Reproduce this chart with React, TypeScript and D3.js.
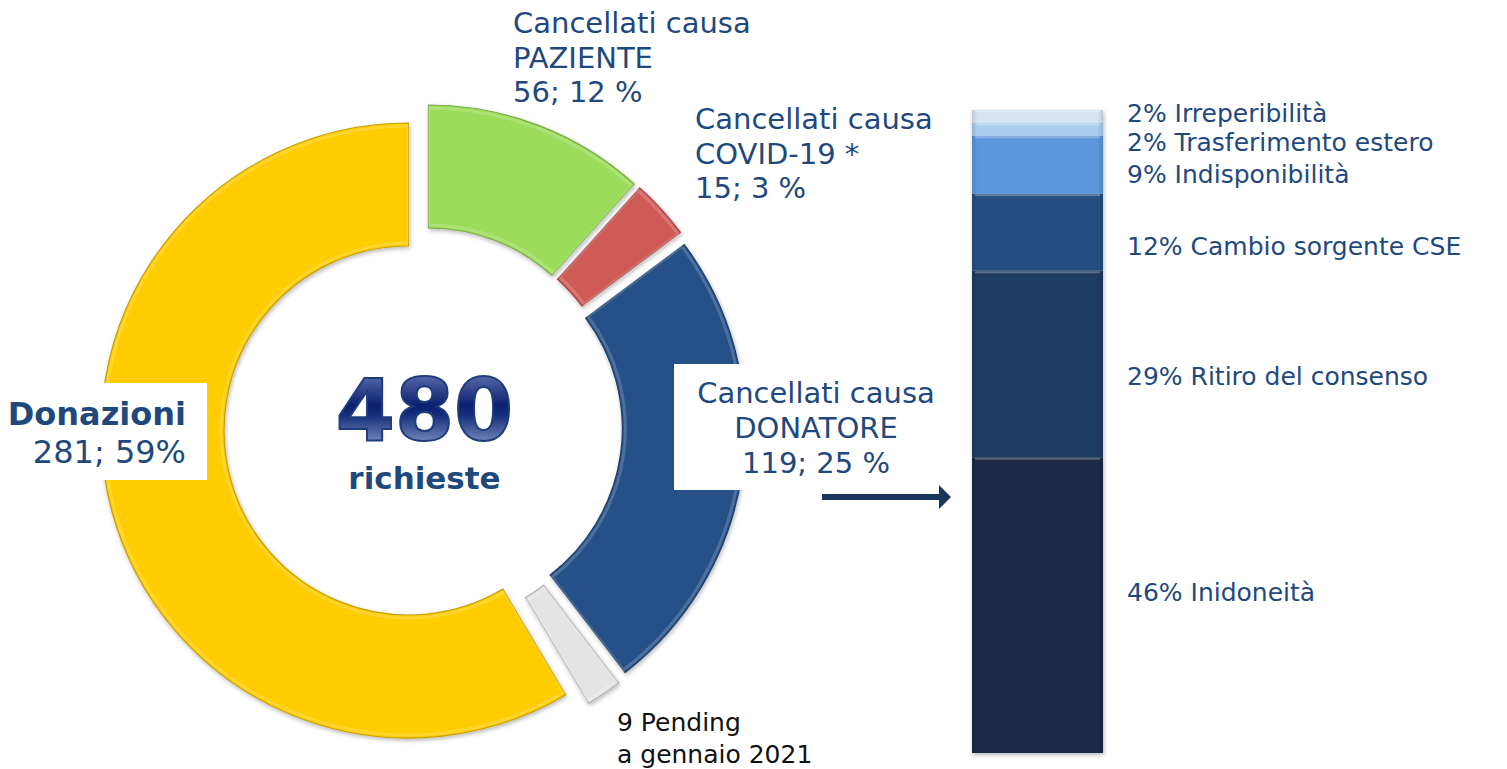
import React from "react";
import * as d3 from "d3";

// ---- Data ----
const pieCategories = ["PAZIENTE", "COVID-19 *", "DONATORE", "Pending", "Donazioni"];
const pieValues = [56, 15, 119, 9, 281];
const piePercents = [12, 3, 25, 2, 59];

const barCategories = [
  "Inidoneità",
  "Ritiro del consenso",
  "Cambio sorgente CSE",
  "Indisponibilità",
  "Trasferimento estero",
  "Irreperibilità",
];
const barValues = [46, 29, 12, 9, 2, 2];

const totalLabel = "richieste";
const pendingLines = ["9 Pending", "a gennaio 2021"];

export default function App() {
  const W = 1507;
  const H = 769;
  const FONT = "'DejaVu Sans', Verdana, sans-serif";
  const TEXT = "#1f497d";

  const pieColors = ["#9bdc5a", "#d05a55", "#265188", "#e4e4e4", "#ffcc00"];
  const barColors = ["#1a2b47", "#1e3a61", "#264e82", "#5b96dc", "#a9cdee", "#d6e3f0"];

  const cx = 423;
  const cy = 426.5;
  const rOuter = 307.5;
  const rInner = 184.5;
  const explode = 15;

  const total = d3.sum(pieValues);
  const pieGen = d3
    .pie<number>()
    .sort(null)
    .value((d) => d)
    .startAngle(0)
    .endAngle(2 * Math.PI);
  const arcs = pieGen(pieValues);
  const arcGen = d3
    .arc<d3.PieArcDatum<number>>()
    .innerRadius(rInner)
    .outerRadius(rOuter);
  const arcInset = d3
    .arc<d3.PieArcDatum<number>>()
    .innerRadius(rInner + 3)
    .outerRadius(rOuter - 3);

  // stacked bar
  const barX = 972;
  const barW = 131;
  const y = d3.scaleLinear().domain([0, 100]).range([753, 110]);
  let acc = 0;
  const segs = barValues.map((v, i) => {
    const s = { i, v, y0: acc, y1: acc + v };
    acc += v;
    return s;
  });
  const labelNudge = [-13, 12, 14, 9, 13, -3];

  const lh = 34.5;

  return (
    <div style={{ position: "absolute", left: 0, top: 0, width: W, height: H, background: "#fff" }}>
      <svg width={W} height={H} style={{ display: "block" }}>
        <defs>
          <filter id="shadow" x="-20%" y="-20%" width="140%" height="140%">
            <feDropShadow dx="1" dy="2" stdDeviation="2" floodColor="#000" floodOpacity="0.28" />
          </filter>
          <linearGradient id="g480" x1="0" y1="0" x2="0" y2="1">
            <stop offset="0" stopColor="#7b8cc6" />
            <stop offset="0.45" stopColor="#0b1f6f" />
            <stop offset="0.55" stopColor="#16307c" />
            <stop offset="1" stopColor="#b3bfe2" />
          </linearGradient>
          {barColors.map((c, i) => (
            <linearGradient key={i} id={`bg${i}`} x1="0" y1="0" x2="1" y2="0">
              <stop offset="0" stopColor={d3.color(c)!.darker(0.35).formatHex()} />
              <stop offset="0.04" stopColor={c} />
              <stop offset="0.96" stopColor={c} />
              <stop offset="1" stopColor={d3.color(c)!.darker(0.35).formatHex()} />
            </linearGradient>
          ))}
        </defs>

        {/* Donut */}
        <g>
          {arcs.map((a, i) => {
            const mid = (a.startAngle + a.endAngle) / 2;
            const tx = cx + Math.sin(mid) * explode;
            const ty = cy - Math.cos(mid) * explode;
            const c = pieColors[i];
            return (
              <g key={i} transform={`translate(${tx},${ty})`}>
                <path
                  d={arcGen(a) || ""}
                  fill={c}
                  stroke={d3.color(c)!.darker(0.7).formatHex()}
                  strokeWidth={1.2}
                  filter="url(#shadow)"
                />
                <path
                  d={arcInset(a) || ""}
                  fill="none"
                  stroke="#fff"
                  strokeOpacity={0.18}
                  strokeWidth={3}
                />
              </g>
            );
          })}
        </g>

        {/* Center total */}
        <text
          x={424.5}
          y={440}
          textAnchor="middle"
          fontFamily={FONT}
          fontWeight="bold"
          fontSize={85}
          fill="url(#g480)"
          stroke="#1f3c7c"
          strokeWidth={2}
        >
          {total}
        </text>
        <text x={424.5} y={489} textAnchor="middle" fontFamily={FONT} fontWeight="bold" fontSize={31} fill={TEXT}>
          {totalLabel}
        </text>

        {/* Donazioni label box */}
        <rect x={0} y={383} width={207} height={97} fill="#fff" />
        <text fontFamily={FONT} fontSize={32} fill={TEXT} textAnchor="end">
          <tspan x={186} y={425} fontWeight="bold">
            {pieCategories[4]}
          </tspan>
          <tspan x={186} y={463}>
            {`${pieValues[4]}; ${piePercents[4]}%`}
          </tspan>
        </text>

        {/* PAZIENTE label */}
        <text fontFamily={FONT} fontSize={29} fill={TEXT}>
          <tspan x={513} y={33}>Cancellati causa</tspan>
          <tspan x={513} y={33 + lh}>{pieCategories[0]}</tspan>
          <tspan x={513} y={33 + 2 * lh}>{`${pieValues[0]}; ${piePercents[0]} %`}</tspan>
        </text>

        {/* COVID label */}
        <text fontFamily={FONT} fontSize={29} fill={TEXT}>
          <tspan x={695} y={129}>Cancellati causa</tspan>
          <tspan x={695} y={129 + lh}>{pieCategories[1]}</tspan>
          <tspan x={695} y={129 + 2 * lh}>{`${pieValues[1]}; ${piePercents[1]} %`}</tspan>
        </text>

        {/* DONATORE label box */}
        <rect x={674} y={364} width={285} height={126} fill="#fff" />
        <text fontFamily={FONT} fontSize={29} fill={TEXT} textAnchor="middle">
          <tspan x={816} y={403}>Cancellati causa</tspan>
          <tspan x={816} y={438}>{pieCategories[2]}</tspan>
          <tspan x={816} y={473}>{`${pieValues[2]}; ${piePercents[2]} %`}</tspan>
        </text>

        {/* Pending label */}
        <text fontFamily={FONT} fontSize={25} fill="#111">
          <tspan x={617} y={731}>{pendingLines[0]}</tspan>
          <tspan x={617} y={763}>{pendingLines[1]}</tspan>
        </text>

        {/* Arrow */}
        <path d="M822,494 L939,494 L939,485 L951,497 L939,509 L939,500 L822,500 Z" fill="#1b365d" />

        {/* Stacked bar */}
        <g filter="url(#shadow)">
          {segs.map((s) => (
            <rect
              key={s.i}
              x={barX}
              y={y(s.y1)}
              width={barW}
              height={y(s.y0) - y(s.y1)}
              fill={`url(#bg${s.i})`}
            />
          ))}
        </g>
        {segs.map((s) => (
          <rect
            key={"h" + s.i}
            x={barX + 3}
            y={y(s.y1) + 0.5}
            width={barW - 6}
            height={2}
            fill="#fff"
            opacity={0.28}
          />
        ))}
        {segs.map((s) => (
          <text
            key={"t" + s.i}
            x={1127}
            y={y((s.y0 + s.y1) / 2) + labelNudge[s.i] + 9}
            fontFamily={FONT}
            fontSize={25}
            fill={TEXT}
          >
            {`${s.v}% ${barCategories[s.i]}`}
          </text>
        ))}
      </svg>
    </div>
  );
}
